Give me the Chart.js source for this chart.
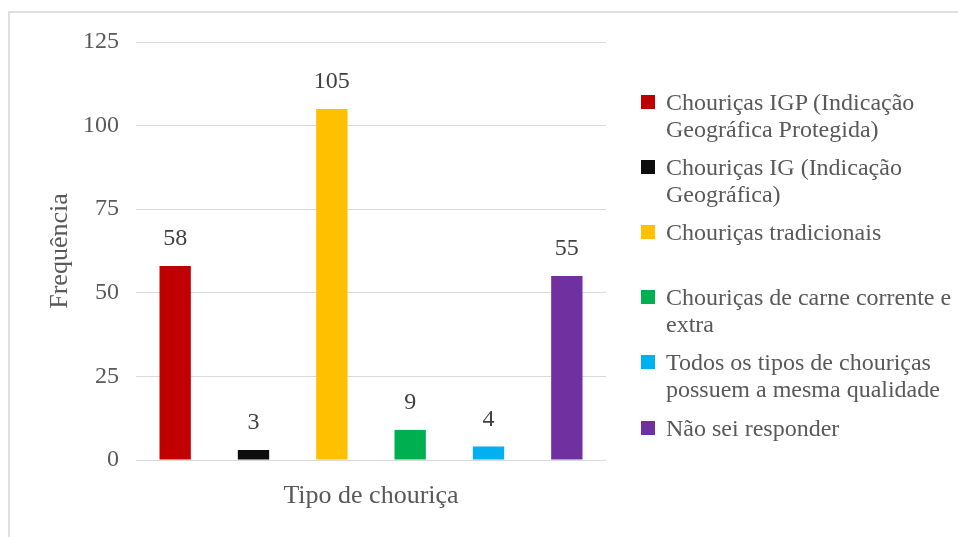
<!DOCTYPE html>
<html>
<head>
<meta charset="utf-8">
<script src="https://cdn.jsdelivr.net/npm/chart.js@4.4.1/dist/chart.umd.min.js"></script>
<style>
  html, body { margin: 0; padding: 0; background: #fff; }
  #wrap { position: relative; width: 958px; height: 537px; overflow: hidden; }
  #frame {
    position: absolute; left: 8px; top: 11px; width: 1000px; height: 600px;
    border-top: 2px solid #e0e0e0; border-left: 2px solid #e0e0e0;
    pointer-events: none;
  }
  #chart { position: absolute; left: 0; top: 0; }
  #legend { position: absolute; left: 0; top: 0; font-family: "Liberation Serif", "Times New Roman", serif; }
  .item { position: absolute; left: 641px; line-height: 27px; font-size: 24px; color: #595959; white-space: nowrap; }
  .swatch { position: absolute; left: 0; top: 6px; width: 14px; height: 14px; }
  .text { margin-left: 25px; }
</style>
</head>
<body>
<div id="wrap">
  <div id="frame"></div>
  <canvas id="chart" width="958" height="537"></canvas>
  <div id="legend"></div>
</div>
<script>
// one category, one series per type of chouriça
const categories = ["Tipo de chouriça"];
const seriesLines = [
  ["Chouriças IGP (Indicação", "Geográfica Protegida)"],
  ["Chouriças IG (Indicação", "Geográfica)"],
  ["Chouriças tradicionais"],
  ["Chouriças de carne corrente e", "extra"],
  ["Todos os tipos de chouriças", "possuem a mesma qualidade"],
  ["Não sei responder"],
];
const seriesValues = [58, 3, 105, 9, 4, 55];
const seriesColors = ["#C00000", "#0D0D0D", "#FFC000", "#00B050", "#00B0F0", "#7030A0"];
const yTicks = [0, 25, 50, 75, 100, 125];

const FONT = "'Liberation Serif', 'Times New Roman', serif";
const GRID = "#d9d9d9";
const TEXT = "#595959";

// numbers above each bar
const valueLabels = {
  id: "valueLabels",
  afterDatasetsDraw(chart) {
    const ctx = chart.ctx;
    ctx.save();
    ctx.font = "24px " + FONT;
    ctx.fillStyle = "#404040";
    ctx.textAlign = "center";
    ctx.textBaseline = "alphabetic";
    chart.data.datasets.forEach((ds, i) => {
      const bar = chart.getDatasetMeta(i).data[0];
      if (!bar) return;
      ctx.fillText(String(ds.data[0]), bar.x, bar.y - 21);
    });
    ctx.restore();
  },
};

const chart = new Chart(document.getElementById("chart"), {
  type: "bar",
  data: {
    labels: categories,
    datasets: seriesLines.map((lines, i) => ({
      label: lines.join(" "),
      data: [seriesValues[i]],
      backgroundColor: seriesColors[i],
      barPercentage: 0.4,
      categoryPercentage: 1.0,
    })),
  },
  options: {
    responsive: false,
    devicePixelRatio: 1,
    animation: false,
    layout: { padding: { left: 45, top: 42, right: 352, bottom: 25 } },
    plugins: {
      legend: { display: false },
      tooltip: { enabled: false },
    },
    scales: {
      x: {
        grid: { display: false, drawTicks: false },
        border: { display: false },
        ticks: { display: false },
        title: {
          display: true,
          text: categories[0],
          color: TEXT,
          font: { family: FONT, size: 26 },
          padding: 0,
        },
        afterFit(scale) { scale.height = 52; },
      },
      y: {
        min: 0,
        max: 125,
        afterBuildTicks(scale) { scale.ticks = yTicks.map((v) => ({ value: v })); },
        grid: { color: GRID, lineWidth: 1, drawTicks: false },
        border: { display: false },
        ticks: {
          color: TEXT,
          font: { family: FONT, size: 24 },
          padding: 17,
        },
        title: {
          display: true,
          text: "Frequência",
          color: TEXT,
          font: { family: FONT, size: 26 },
          padding: 0,
        },
        afterFit(scale) { scale.width = 91; },
      },
    },
  },
  plugins: [valueLabels],
});

// legend: fixed-height slots like the original
const legend = document.getElementById("legend");
chart.data.datasets.forEach((ds, i) => {
  const item = document.createElement("div");
  item.className = "item";
  item.style.top = (88.5 + i * 65.2) + "px";
  const sw = document.createElement("div");
  sw.className = "swatch";
  sw.style.background = ds.backgroundColor;
  const txt = document.createElement("div");
  txt.className = "text";
  txt.innerHTML = seriesLines[i].map((l) => l.replace(/&/g, "&amp;").replace(/</g, "&lt;")).join("<br>");
  item.appendChild(sw);
  item.appendChild(txt);
  legend.appendChild(item);
});
</script>
</body>
</html>
